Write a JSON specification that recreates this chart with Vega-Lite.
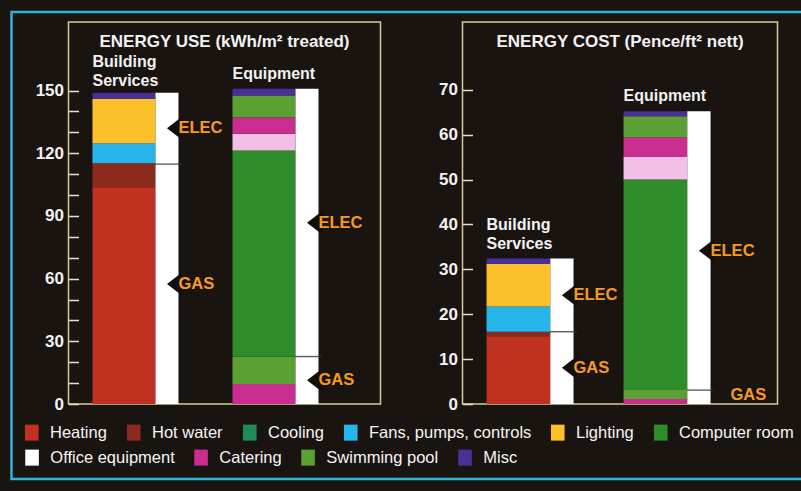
{
  "$schema": "https://vega.github.io/schema/vega-lite/v6.json",
  "background": "#1a1411",
  "padding": {"left": 9.5, "top": 10, "right": 4, "bottom": 14},
  "autosize": {"type": "pad"},
  "bounds": "flush",
  "spacing": 82,
  "datasets": {
    "uses": [
      {"m": "use", "group": "Building Services", "cat": "Heating", "v": 103.7, "i": 1},
      {"m": "use", "group": "Building Services", "cat": "Hot water", "v": 11.5, "i": 2},
      {"m": "use", "group": "Building Services", "cat": "Fans, pumps, controls", "v": 9.6, "i": 3},
      {"m": "use", "group": "Building Services", "cat": "Lighting", "v": 21.2, "i": 4},
      {"m": "use", "group": "Building Services", "cat": "Misc", "v": 3.0, "i": 5},
      {"m": "use", "group": "Equipment", "cat": "Catering", "v": 9.6, "i": 1},
      {"m": "use", "group": "Equipment", "cat": "Swimming pool", "v": 13.1, "i": 2},
      {"m": "use", "group": "Equipment", "cat": "Computer room", "v": 98.6, "i": 3},
      {"m": "use", "group": "Equipment", "cat": "Office equipment", "v": 8.0, "i": 4},
      {"m": "use", "group": "Equipment", "cat": "Catering", "v": 7.9, "i": 5},
      {"m": "use", "group": "Equipment", "cat": "Swimming pool", "v": 10.4, "i": 6},
      {"m": "use", "group": "Equipment", "cat": "Misc", "v": 3.2, "i": 7},
      {"m": "cost", "group": "Building Services", "cat": "Heating", "v": 15.1, "i": 1},
      {"m": "cost", "group": "Building Services", "cat": "Hot water", "v": 1.0, "i": 2},
      {"m": "cost", "group": "Building Services", "cat": "Fans, pumps, controls", "v": 5.6, "i": 3},
      {"m": "cost", "group": "Building Services", "cat": "Lighting", "v": 9.5, "i": 4},
      {"m": "cost", "group": "Building Services", "cat": "Misc", "v": 1.2, "i": 5},
      {"m": "cost", "group": "Equipment", "cat": "Catering", "v": 1.1, "i": 1},
      {"m": "cost", "group": "Equipment", "cat": "Swimming pool", "v": 2.0, "i": 2},
      {"m": "cost", "group": "Equipment", "cat": "Computer room", "v": 46.9, "i": 3},
      {"m": "cost", "group": "Equipment", "cat": "Office equipment", "v": 5.0, "i": 4},
      {"m": "cost", "group": "Equipment", "cat": "Catering", "v": 4.4, "i": 5},
      {"m": "cost", "group": "Equipment", "cat": "Swimming pool", "v": 4.7, "i": 6},
      {"m": "cost", "group": "Equipment", "cat": "Misc", "v": 1.1, "i": 7}
    ],
    "fuel": [
      {"m": "use", "group": "Building Services", "fuel": "GAS", "amount": 114.8},
      {"m": "use", "group": "Building Services", "fuel": "ELEC", "amount": 34.2},
      {"m": "use", "group": "Equipment", "fuel": "GAS", "amount": 22.7},
      {"m": "use", "group": "Equipment", "fuel": "ELEC", "amount": 128.1},
      {"m": "cost", "group": "Building Services", "fuel": "GAS", "amount": 16.1},
      {"m": "cost", "group": "Building Services", "fuel": "ELEC", "amount": 16.3},
      {"m": "cost", "group": "Equipment", "fuel": "GAS", "amount": 3.1},
      {"m": "cost", "group": "Equipment", "fuel": "ELEC", "amount": 62.1}
    ]
  },
  "hconcat": [
    {
      "width": 312,
      "height": 382,
      "title": {"text": "ENERGY USE (kWh/m² treated)"},
      "resolve": {"axis": {"y": "independent"}},
      "layer": [
        {
          "data": {"name": "uses"},
          "transform": [{"filter": "datum.m === 'use'"}],
          "mark": {"type": "bar", "width": {"band": 0.733}, "xOffset": -11.5},
          "encoding": {
            "x": {"field": "group", "type": "nominal", "axis": null,
                  "scale": {"domain": ["Building Services", "Equipment"], "paddingInner": 0.386, "paddingOuter": 0.307, "align": 0.279}},
            "y": {"field": "v", "type": "quantitative", "stack": "zero",
                  "scale": {"domain": [0, 182.8], "nice": false},
                  "axis": {"orient": "left", "values": [0, 30, 60, 90, 120, 150], "labelOverlap": false}},
            "color": {"field": "cat", "type": "nominal",
                      "scale": {"domain": ["Heating", "Hot water", "Cooling", "Fans, pumps, controls", "Lighting", "Computer room", "Office equipment", "Catering", "Swimming pool", "Misc", " "],
                                "range": ["#c0321f", "#8c2a1e", "#1e8c5a", "#27b4ea", "#fcc12a", "#2f8c2a", "#f2c0e6", "#c92d8e", "#5aa032", "#4a2f98", "rgba(0,0,0,0)"]},
                      "legend": {
                        "values": ["Heating", "Hot water", "Cooling", "Fans, pumps, controls", "Lighting", "Computer room", " "],
                        "orient": "none", "legendX": -57, "legendY": -10,
                        "direction": "horizontal", "columns": 6,
                        "title": " ", "titleFontSize": 1, "titlePadding": 399.25,
                        "padding": 12, "strokeColor": "#2fb4d4",
                        "symbolType": "M-0.85,-1H0.85V1H-0.85Z", "symbolSize": 256, "symbolStrokeWidth": 0, "symbolOpacity": 1,
                        "labelFontSize": 16.5, "labelColor": "#f4f4f4", "labelOffset": 10,
                        "columnPadding": 18, "rowPadding": 8.25, "labelLimit": 300
                      }},
            "order": {"field": "i", "type": "quantitative"}
          }
        },
        {
          "data": {"name": "uses"},
          "transform": [{"filter": "datum.m === 'use' && (datum.cat === 'Office equipment' || datum.cat === 'Catering' || datum.cat === 'Swimming pool' || datum.cat === 'Misc')"}],
          "mark": {"type": "point", "filled": true, "opacity": 0},
          "encoding": {
            "x": {"field": "group", "type": "nominal"},
            "y": {"field": "v", "type": "quantitative", "axis": null},
            "fill": {"field": "cat", "type": "nominal",
                     "scale": {"domain": ["Office equipment", "Catering", "Swimming pool", "Misc"],
                               "range": ["#ffffff", "#c92d8e", "#5aa032", "#4a2f98"]},
                     "legend": {
                       "orient": "none", "legendX": -44.7, "legendY": 427.25,
                       "direction": "horizontal", "title": null, "padding": 0,
                       "symbolType": "M-0.85,-1H0.85V1H-0.85Z", "symbolSize": 256, "symbolStrokeWidth": 0, "symbolOpacity": 1,
                       "labelFontSize": 16.5, "labelColor": "#f4f4f4", "labelOffset": 10,
                       "columnPadding": 18, "labelLimit": 300
                     }}
          }
        },
        {
          "data": {"name": "fuel"},
          "transform": [{"filter": "datum.m === 'use'"}],
          "mark": {"type": "bar", "color": "#ffffff", "width": {"band": 0.267}, "xOffset": 31.5},
          "encoding": {
            "x": {"field": "group", "type": "nominal"},
            "y": {"field": "amount", "type": "quantitative", "stack": "zero",
                  "axis": {"orient": "left", "values": [10, 20, 40, 50, 70, 80, 100, 110, 130, 140], "labels": false}},
            "order": {"field": "fuel", "sort": "descending"}
          }
        },
        {
          "data": {"name": "fuel"},
          "transform": [{"filter": "datum.m === 'use' && datum.fuel === 'GAS'"}],
          "mark": {"type": "tick", "orient": "horizontal", "size": 27, "thickness": 1.5, "color": "#3b2d24", "xOffset": 33},
          "encoding": {
            "x": {"field": "group", "type": "nominal"},
            "y": {"field": "amount", "type": "quantitative", "axis": null}
          }
        },
        {
          "data": {"name": "fuel"},
          "transform": [
            {"filter": "datum.m === 'use'"},
            {"stack": "amount", "groupby": ["group"], "sort": [{"field": "fuel", "order": "descending"}], "as": ["lo", "hi"]},
            {"fold": ["lo", "hi"], "as": ["edge", "val"]},
            {"aggregate": [{"op": "mean", "field": "val", "as": "mid"}], "groupby": ["group", "fuel", "amount"]}
          ],
          "layer": [
            {
              "transform": [{"filter": "datum.amount >= 5"}],
              "mark": {"type": "point", "shape": "M1.3,-1L0,0L1.3,1Z", "filled": true, "color": "#140f0d", "opacity": 1, "size": 576, "xOffset": 31.5},
              "encoding": {
                "x": {"field": "group", "type": "nominal"},
                "y": {"field": "mid", "type": "quantitative", "axis": null}
              }
            },
            {
              "mark": {"type": "text", "align": "left", "baseline": "middle", "fontSize": 16.5, "fontWeight": "bold", "color": "#f59a23", "xOffset": 43},
              "encoding": {
                "x": {"field": "group", "type": "nominal"},
                "y": {"field": "mid", "type": "quantitative", "axis": null},
                "text": {"field": "fuel"}
              }
            }
          ]
        },
        {
          "data": {"name": "fuel"},
          "transform": [
            {"filter": "datum.m === 'use'"},
            {"aggregate": [{"op": "sum", "field": "amount", "as": "total"}], "groupby": ["group"]}
          ],
          "layer": [
            {
              "transform": [{"filter": "datum.group === 'Building Services'"}],
              "mark": {"type": "text", "align": "left", "baseline": "bottom", "fontSize": 16, "fontWeight": "bold", "color": "#f2f2f2", "xOffset": -43, "dy": -23, "lineBreak": " ", "lineHeight": 19},
              "encoding": {
                "x": {"field": "group", "type": "nominal"},
                "y": {"field": "total", "type": "quantitative", "axis": null},
                "text": {"field": "group"}
              }
            },
            {
              "transform": [{"filter": "datum.group === 'Equipment'"}],
              "mark": {"type": "text", "align": "left", "baseline": "bottom", "fontSize": 16, "fontWeight": "bold", "color": "#f2f2f2", "xOffset": -43, "dy": -7},
              "encoding": {
                "x": {"field": "group", "type": "nominal"},
                "y": {"field": "total", "type": "quantitative", "axis": null},
                "text": {"field": "group"}
              }
            }
          ]
        }
      ]
    },
    {
      "width": 315,
      "height": 382,
      "title": {"text": "ENERGY COST (Pence/ft² nett)"},
      "layer": [
        {
          "data": {"name": "uses"},
          "transform": [{"filter": "datum.m === 'cost'"}],
          "mark": {"type": "bar", "width": {"band": 0.733}, "xOffset": -11.6},
          "encoding": {
            "x": {"field": "group", "type": "nominal", "axis": null,
                  "scale": {"domain": ["Building Services", "Equipment"], "paddingInner": 0.365, "paddingOuter": 0.332, "align": 0.264}},
            "y": {"field": "v", "type": "quantitative", "stack": "zero",
                  "scale": {"domain": [0, 85.1], "nice": false},
                  "axis": {"values": [0, 10, 20, 30, 40, 50, 60, 70], "labelOverlap": false}},
            "color": {"field": "cat", "type": "nominal"},
            "order": {"field": "i", "type": "quantitative"}
          }
        },
        {
          "data": {"name": "fuel"},
          "transform": [{"filter": "datum.m === 'cost'"}],
          "mark": {"type": "bar", "color": "#ffffff", "width": {"band": 0.267}, "xOffset": 31.9},
          "encoding": {
            "x": {"field": "group", "type": "nominal"},
            "y": {"field": "amount", "type": "quantitative", "stack": "zero"},
            "order": {"field": "fuel", "sort": "descending"}
          }
        },
        {
          "data": {"name": "fuel"},
          "transform": [{"filter": "datum.m === 'cost' && datum.fuel === 'GAS'"}],
          "mark": {"type": "tick", "orient": "horizontal", "size": 27, "thickness": 1.5, "color": "#3b2d24", "xOffset": 33.5},
          "encoding": {
            "x": {"field": "group", "type": "nominal"},
            "y": {"field": "amount", "type": "quantitative"}
          }
        },
        {
          "data": {"name": "fuel"},
          "transform": [
            {"filter": "datum.m === 'cost'"},
            {"stack": "amount", "groupby": ["group"], "sort": [{"field": "fuel", "order": "descending"}], "as": ["lo", "hi"]},
            {"fold": ["lo", "hi"], "as": ["edge", "val"]},
            {"aggregate": [{"op": "mean", "field": "val", "as": "mid"}], "groupby": ["group", "fuel", "amount"]}
          ],
          "layer": [
            {
              "transform": [{"filter": "datum.amount >= 5"}],
              "mark": {"type": "point", "shape": "M1.3,-1L0,0L1.3,1Z", "filled": true, "color": "#140f0d", "opacity": 1, "size": 576, "xOffset": 31.9},
              "encoding": {
                "x": {"field": "group", "type": "nominal"},
                "y": {"field": "mid", "type": "quantitative"}
              }
            },
            {
              "transform": [{"filter": "datum.amount >= 5"}],
              "mark": {"type": "text", "align": "left", "baseline": "middle", "fontSize": 16.5, "fontWeight": "bold", "color": "#f59a23", "xOffset": 43.5},
              "encoding": {
                "x": {"field": "group", "type": "nominal"},
                "y": {"field": "mid", "type": "quantitative"},
                "text": {"field": "fuel"}
              }
            },
            {
              "transform": [{"filter": "datum.amount < 5"}],
              "mark": {"type": "text", "align": "left", "baseline": "middle", "fontSize": 16.5, "fontWeight": "bold", "color": "#f59a23", "xOffset": 63.5, "dy": -2},
              "encoding": {
                "x": {"field": "group", "type": "nominal"},
                "y": {"field": "mid", "type": "quantitative"},
                "text": {"field": "fuel"}
              }
            }
          ]
        },
        {
          "data": {"name": "fuel"},
          "transform": [
            {"filter": "datum.m === 'cost'"},
            {"aggregate": [{"op": "sum", "field": "amount", "as": "total"}], "groupby": ["group"]}
          ],
          "layer": [
            {
              "transform": [{"filter": "datum.group === 'Building Services'"}],
              "mark": {"type": "text", "align": "left", "baseline": "bottom", "fontSize": 16, "fontWeight": "bold", "color": "#f2f2f2", "xOffset": -43.5, "dy": -26, "lineBreak": " ", "lineHeight": 19},
              "encoding": {
                "x": {"field": "group", "type": "nominal"},
                "y": {"field": "total", "type": "quantitative"},
                "text": {"field": "group"}
              }
            },
            {
              "transform": [{"filter": "datum.group === 'Equipment'"}],
              "mark": {"type": "text", "align": "left", "baseline": "bottom", "fontSize": 16, "fontWeight": "bold", "color": "#f2f2f2", "xOffset": -43.5, "dy": -7},
              "encoding": {
                "x": {"field": "group", "type": "nominal"},
                "y": {"field": "total", "type": "quantitative"},
                "text": {"field": "group"}
              }
            }
          ]
        }
      ]
    }
  ],
  "resolve": {
    "scale": {"x": "independent", "y": "independent", "color": "shared"},
    "legend": {"color": "shared"}
  },
  "config": {
    "font": "Liberation Sans",
    "view": {"stroke": "#d4cc98", "strokeWidth": 1.5},
    "title": {"color": "#f2f2f2", "fontSize": 17, "fontWeight": "bold", "font": "Liberation Sans", "anchor": "middle", "baseline": "bottom", "offset": -29},
    "axisY": {
      "domain": false, "grid": false, "title": null, "labelOverlap": false,
      "tickColor": "#e6e0c8", "tickWidth": 1.5, "tickSize": -10,
      "labelColor": "#f2f2f2", "labelFont": "Liberation Sans", "labelFontSize": 17, "labelFontWeight": "bold", "labelPadding": 15
    },
    "legend": {"strokeWidth": 2.5, "labelFont": "Liberation Sans"}
  }
}
